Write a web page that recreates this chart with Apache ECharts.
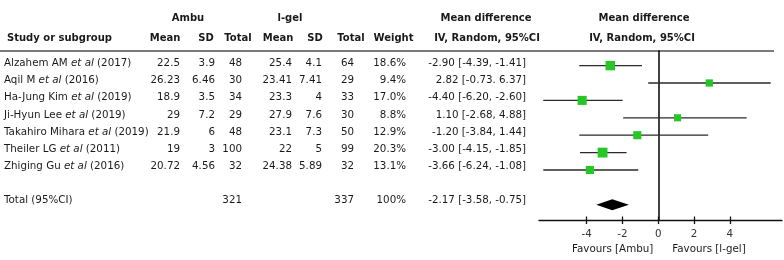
<!DOCTYPE html>
<html>
<head>
<meta charset="utf-8">
<script src="https://cdn.jsdelivr.net/npm/echarts@6/dist/echarts.min.js"></script>
<style>
html,body{margin:0;padding:0;background:#fff;}
#c{width:784px;height:260px;}
</style>
</head>
<body>
<div id="c"></div>
<script>
// ---- data ----
const studies = ['Alzahem AM', 'Aqil M', 'Ha-Jung Kim', 'Ji-Hyun Lee', 'Takahiro Mihara', 'Theiler LG', 'Zhiging Gu'];
const years = ['2017', '2016', '2019', '2019', '2019', '2011', '2016'];
const ambuMean = [22.5, 26.23, 18.9, 29, 21.9, 19, 20.72];
const ambuSD = [3.9, 6.46, 3.5, 7.2, 6, 3, 4.56];
const ambuTotal = [48, 30, 34, 29, 48, 100, 32];
const igelMean = [25.4, 23.41, 23.3, 27.9, 23.1, 22, 24.38];
const igelSD = [4.1, 7.41, 4, 7.6, 7.3, 5, 5.89];
const igelTotal = [64, 29, 33, 30, 50, 99, 32];
const weights = [18.6, 9.4, 17.0, 8.8, 12.9, 20.3, 13.1];
const mdEst = [-2.90, 2.82, -4.40, 1.10, -1.20, -3.00, -3.66];
const mdLow = [-4.39, -0.73, -6.20, -2.68, -3.84, -4.15, -6.24];
const mdHigh = [-1.41, 6.37, -2.60, 4.88, 1.44, -1.85, -1.08];
const mdSep = [', ', '. ', ', ', ', ', ', ', ', ', ', '];
const totalAmbu = 321;
const totalIgel = 337;
const totalWeight = '100%';
const totalEst = -2.17, totalLow = -3.58, totalHigh = -0.75;
// positions of the marks as drawn in the plot
const drawnEst = [-2.68, 2.85, -4.25, 1.08, -1.17, -3.11, -3.82];
const drawnLow = [-4.41, -0.56, -6.42, -1.96, -4.41, -4.37, -6.42];
const drawnHigh = [-0.91, 6.28, -1.99, 4.94, 2.79, -1.77, -1.12];
const drawnTotal = [-3.46, -2.57, -1.64];
const tickValues = [-4, -2, 0, 2, 4];
const favLeft = 'Favours [Ambu]';
const favRight = 'Favours [l-gel]';

// ---- build ----
const FONT = '"DejaVu Sans", Verdana, sans-serif';
const FS = 10.3, FSB = 10;
const COL = '#1a1a1a';
const chart = echarts.init(document.getElementById('c'), null, {renderer: 'canvas'});

const f2 = v => v.toFixed(2);
const mdLabel = studies.map((s, i) => f2(mdEst[i]) + ' [' + f2(mdLow[i]) + mdSep[i] + f2(mdHigh[i]) + ']');
const totalLabel = f2(totalEst) + ' [' + f2(totalLow) + ', ' + f2(totalHigh) + ']';

const studyData = studies.map((s, i) => [i, drawnLow[i], drawnEst[i], drawnHigh[i], weights[i]]);

const rowY = i => 63.5 + 17.15 * i;
function txt(x, y, text, align, bold, extra) {
  return {type: 'text', silent: true, style: Object.assign({
    x: x, y: y, text: text, align: align || 'left', verticalAlign: 'middle',
    fontFamily: FONT, fontSize: bold ? FSB : FS, fontWeight: bold ? 'bold' : 'normal', fill: COL
  }, extra || {})};
}

const g = [];
// headers
g.push(txt(188, 18, 'Ambu', 'center', true));
g.push(txt(290, 18, 'l-gel', 'center', true));
g.push(txt(486, 18, 'Mean difference', 'center', true));
g.push(txt(644, 18, 'Mean difference', 'center', true));
g.push(txt(7, 38, 'Study or subgroup', 'left', true));
g.push(txt(642, 38, 'IV, Random, 95%CI', 'center', true));
const cols = [
  {x: 180, vals: ambuMean, head: 'Mean', hx: 165},
  {x: 215, vals: ambuSD, head: 'SD', hx: 206},
  {x: 242, vals: ambuTotal, head: 'Total', hx: 238},
  {x: 292, vals: igelMean, head: 'Mean', hx: 278},
  {x: 322, vals: igelSD, head: 'SD', hx: 315},
  {x: 354, vals: igelTotal, head: 'Total', hx: 351},
  {x: 406, vals: weights.map(w => w.toFixed(1) + '%'), head: 'Weight', hx: 393.5},
  {x: 526, vals: mdLabel, head: 'IV, Random, 95%CI', hx: 487}
];
cols.forEach(c => {
  g.push(txt(c.hx, 38, c.head, 'center', true));
  c.vals.forEach((v, i) => g.push(txt(c.x, rowY(i), String(v), 'right')));
});
studies.forEach((s, i) => {
  g.push({type: 'text', silent: true, style: {
    x: 4, y: rowY(i), verticalAlign: 'middle',
    text: '{n|' + s + ' }{i|et al}{n| (' + years[i] + ')}',
    fontFamily: FONT, fontSize: FS, fill: COL,
    rich: {
      n: {fontFamily: FONT, fontSize: FS, fill: COL},
      i: {fontFamily: FONT, fontSize: FS, fill: COL, fontStyle: 'italic'}
    }
  }});
});
// total row
g.push(txt(4, rowY(8), 'Total (95%CI)', 'left'));
g.push(txt(242, rowY(8), String(totalAmbu), 'right'));
g.push(txt(354, rowY(8), String(totalIgel), 'right'));
g.push(txt(406, rowY(8), totalWeight, 'right'));
g.push(txt(526, rowY(8), totalLabel, 'right'));
// header rule
g.push({type: 'line', silent: true, shape: {x1: 0, y1: 51, x2: 774, y2: 51}, style: {stroke: '#7a7a7a', lineWidth: 2}});

const XMIN = -6.66, XMAX = 6.91;
const axisCommon = {type: 'value', min: XMIN, max: XMAX, splitLine: {show: false}, position: 'bottom'};

const option = {
  animation: false,
  grid: {left: 539, top: 51, width: 243, height: 169, containLabel: false},
  xAxis: [
    Object.assign({}, axisCommon, {
      axisLine: {show: true, onZero: false, lineStyle: {color: '#111', width: 1.3}},
      axisTick: {show: true, length: 4, inside: false, customValues: tickValues, lineStyle: {color: '#111', width: 1.3}},
      axisLabel: {show: true, customValues: tickValues, margin: 9, fontFamily: FONT, fontSize: FS, color: '#333'}
    }),
    Object.assign({}, axisCommon, {
      axisLine: {show: false, onZero: false},
      axisTick: {show: true, length: 3.5, inside: true, customValues: tickValues, lineStyle: {color: '#111', width: 1.3}},
      axisLabel: {show: false}
    })
  ],
  yAxis: {
    type: 'value', inverse: true, min: -0.839, max: 8.874,
    axisLine: {show: true, onZero: true, lineStyle: {color: '#000', width: 1.5}},
    axisTick: {show: false}, axisLabel: {show: false}, splitLine: {show: false}
  },
  series: [
    {
      type: 'custom', xAxisIndex: 0, yAxisIndex: 0,
      encode: {x: [1, 2, 3], y: 0},
      data: studyData,
      renderItem: function (params, api) {
        const y = api.value(0);
        const pL = api.coord([api.value(1), y]);
        const pE = api.coord([api.value(2), y]);
        const pH = api.coord([api.value(3), y]);
        const s = 5 + api.value(4) * 0.24;
        return {type: 'group', children: [
          {type: 'line', shape: {x1: pL[0], y1: pL[1], x2: pH[0], y2: pH[1]}, style: {stroke: '#2a2a2a', lineWidth: 1.3}},
          {type: 'rect', shape: {x: pE[0] - s / 2, y: pE[1] - s / 2, width: s, height: s}, style: {fill: '#27c627'}}
        ]};
      }
    },
    {
      type: 'custom', xAxisIndex: 0, yAxisIndex: 0,
      encode: {x: [1, 2, 3], y: 0},
      data: [[8, drawnTotal[0], drawnTotal[1], drawnTotal[2]]],
      renderItem: function (params, api) {
        const y = api.value(0);
        const pL = api.coord([api.value(1), y]);
        const pE = api.coord([api.value(2), y]);
        const pH = api.coord([api.value(3), y]);
        const h = 5.5;
        return {type: 'polygon', shape: {points: [[pL[0], pL[1]], [pE[0], pE[1] - h], [pH[0], pH[1]], [pE[0], pE[1] + h]]}, style: {fill: '#000'}};
      }
    }
  ],
  graphic: g
};
chart.setOption(option);

// favour labels anchored to the zero of the axis
const zeroPx = chart.convertToPixel({xAxisIndex: 0}, 0);
chart.setOption({graphic: g.concat([
  txt(zeroPx - 5, 249, favLeft, 'right'),
  txt(zeroPx + 14, 249, favRight, 'left')
])});
</script>
</body>
</html>
